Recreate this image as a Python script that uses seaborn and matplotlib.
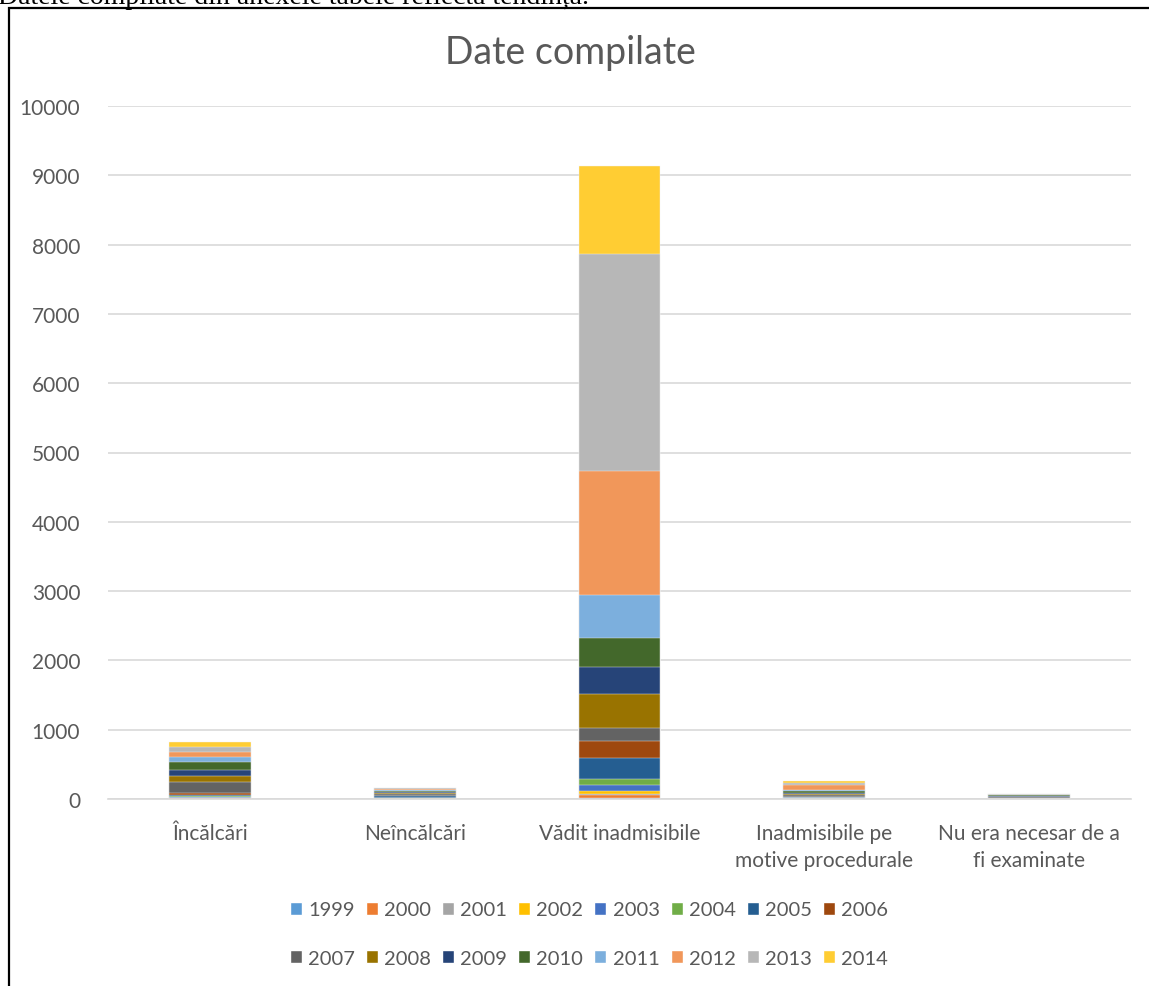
import numpy as np
import pandas as pd
import seaborn as sns
import matplotlib.pyplot as plt
from matplotlib.patches import Patch, Rectangle

categories = ['Încălcări', 'Neîncălcări', 'Vădit inadmisibile',
              'Inadmisibile pe\nmotive procedurale', 'Nu era necesar de a\nfi examinate']
years = [str(y) for y in range(1999, 2015)]

# values per year, one entry per category
v1999 = [5, 2, 10, 3, 1]
v2000 = [5, 2, 50, 3, 1]
v2001 = [5, 2, 10, 3, 1]
v2002 = [5, 2, 40, 3, 1]
v2003 = [10, 4, 95, 3, 1]
v2004 = [12, 4, 85, 3, 1]
v2005 = [20, 25, 300, 5, 1]
v2006 = [25, 8, 240, 5, 1]
v2007 = [154, 18, 200, 25, 20]
v2008 = [87, 22, 480, 15, 8]
v2009 = [96, 12, 390, 12, 8]
v2010 = [106, 14, 420, 35, 8]
v2011 = [82, 14, 630, 10, 4]
v2012 = [62, 14, 1790, 75, 6]
v2013 = [72, 10, 3120, 35, 5]
v2014 = [72, 12, 1280, 25, 6]

values = [v1999, v2000, v2001, v2002, v2003, v2004, v2005, v2006,
          v2007, v2008, v2009, v2010, v2011, v2012, v2013, v2014]
colors = ['#5B9BD5', '#ED7D31', '#A5A5A5', '#FFC000', '#4472C4', '#70AD47',
          '#255E91', '#9E480E', '#636363', '#997300', '#264478', '#43682B',
          '#7CAFDD', '#F1975A', '#B7B7B7', '#FFCD33']

df = pd.DataFrame(values, index=years, columns=categories)
cum = df.cumsum()

sns.set_style('white')
plt.rcParams['font.family'] = ['Lato', 'DejaVu Sans']
txt = '#595959'

fig = plt.figure(figsize=(11.49, 9.87), dpi=100)
ax = fig.add_axes([108 / 1149, 1 - 800 / 987, (1131 - 108) / 1149, (800 - 107) / 987])

# draw from the top of the stack down so lower segments sit in front
for i in range(len(years) - 1, -1, -1):
    d = pd.DataFrame({'cat': categories, 'val': cum.iloc[i].values})
    sns.barplot(data=d, x='cat', y='val', color=colors[i], width=0.4,
                edgecolor='#F2F2F2', linewidth=0.3, ax=ax, saturation=1)

ax.set_ylim(0, 10000)
ax.set_xlim(-0.5, 4.5)
ax.set_yticks(range(0, 10001, 1000))
ax.yaxis.grid(True, color='#D9D9D9', linewidth=1.2)
ax.set_axisbelow(True)
for s in ['top', 'right', 'left']:
    ax.spines[s].set_visible(False)
ax.spines['bottom'].set_color('#D9D9D9')
ax.spines['bottom'].set_linewidth(1.2)
ax.tick_params(axis='both', length=0, labelsize=15, colors=txt)
ax.tick_params(axis='x', pad=17)
ax.tick_params(axis='y', pad=20)
for lab in ax.get_xticklabels():
    lab.set_linespacing(1.45)
ax.set_xlabel('')
ax.set_ylabel('')

fig.text(570 / 1149, 1 - 53 / 987, 'Date compilate', ha='center', va='center',
         fontsize=27, color=txt)

# matplotlib fills legend columns first, so interleave to get rows 1999-2006 / 2007-2014
handles = [Patch(facecolor=c, label=y) for y, c in zip(years, colors)]
ordered = []
for k in range(8):
    ordered += [handles[k], handles[k + 8]]
fig.legend(handles=ordered, ncol=8, loc='center', bbox_to_anchor=(589 / 1149, 1 - 935 / 987),
           frameon=False, fontsize=14.5, labelcolor=txt, handlelength=0.6, handleheight=0.6,
           handletextpad=0.3, columnspacing=0.55, labelspacing=1.55)

# outer chart border
fig.add_artist(Rectangle((8.5 / 1149, -0.05), 1.1, 1.05 - 9.5 / 987, transform=fig.transFigure,
                         fill=False, edgecolor='black', linewidth=1.6))

# clipped line of document text above the chart
fig.text(-2 / 1149, 1 - 4 / 987, 'Datele compilate din anexele tabele reflectă tendința.',
         ha='left', va='baseline', fontsize=20, family=['Liberation Serif'], color='black')

fig.savefig('out.png', dpi=100)
